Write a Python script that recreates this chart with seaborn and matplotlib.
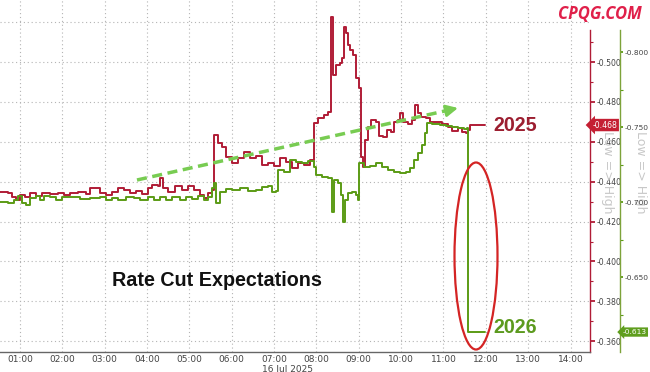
import numpy as np
import pandas as pd
import matplotlib
matplotlib.use("Agg")
import matplotlib.pyplot as plt
import matplotlib.dates as mdates
from matplotlib.patches import Ellipse
from matplotlib.ticker import FuncFormatter, FixedLocator
import seaborn as sns

# ---------------- data ----------------
chart_date = "2025-07-16"
label_2025 = "2025"
label_2026 = "2026"
title_text = "Rate Cut Expectations"
axis_note = "Low => High"
date_label = "16 Jul 2025"
logo_text = "CPQG.COM"

times_2025 = ["00:32", "00:43", "00:49", "00:54", "01:00", "01:07", "01:14", "01:23", "01:31", "01:43",
              "01:54", "02:02", "02:11", "02:22", "02:34", "02:39", "02:48", "02:53", "03:02", "03:10",
              "03:19", "03:27", "03:36", "03:44", "03:53", "04:01", "04:07", "04:16", "04:18", "04:23",
              "04:30", "04:40", "04:50", "04:58", "05:07", "05:15", "05:21", "05:26", "05:32", "05:35",
              "05:41", "05:46", "05:52", "06:00", "06:09", "06:17", "06:26", "06:34", "06:43", "06:51",
              "07:00", "07:08", "07:17", "07:25", "07:34", "07:42", "07:51", "07:57", "08:02", "08:11",
              "08:16", "08:21", "08:23", "08:28", "08:33", "08:36", "08:39", "08:42", "08:45", "08:48",
              "08:52", "08:56", "09:00", "09:03", "09:06", "09:09", "09:13", "09:17", "09:24", "09:29",
              "09:34", "09:40", "09:46", "09:50", "09:56", "09:58", "10:03", "10:10", "10:15", "10:20",
              "10:24", "10:28", "10:35", "10:41", "10:49", "10:58", "11:06", "11:12", "11:21", "11:26",
              "11:32", "11:35", "11:38", "11:46", "11:59"]
vals_2025 = [-0.4348, -0.4343, -0.4323, -0.4308, -0.4333, -0.4323, -0.4343, -0.4328, -0.4343, -0.4338,
             -0.4343, -0.4333, -0.4343, -0.4348, -0.4338, -0.4368, -0.4368, -0.4343, -0.4333, -0.4348,
             -0.4368, -0.4358, -0.4343, -0.4353, -0.4338, -0.4368, -0.4383, -0.4378, -0.4418, -0.4368,
             -0.4348, -0.4378, -0.4358, -0.4378, -0.4358, -0.4333, -0.4318, -0.4343, -0.4358, -0.4634,
             -0.4594, -0.4574, -0.4524, -0.4494, -0.4519, -0.4549, -0.4519, -0.4529, -0.4484, -0.4494,
             -0.4479, -0.4519, -0.4499, -0.4469, -0.4494, -0.4484, -0.4509, -0.4694, -0.4719, -0.4734,
             -0.4749, -0.5226, -0.4935, -0.4985, -0.4995, -0.5020, -0.5175, -0.5145, -0.5085, -0.5060,
             -0.5035, -0.4920, -0.4870, -0.4524, -0.4474, -0.4609, -0.4674, -0.4709, -0.4699, -0.4629,
             -0.4624, -0.4659, -0.4649, -0.4699, -0.4709, -0.4744, -0.4699, -0.4689, -0.4709, -0.4784,
             -0.4744, -0.4724, -0.4719, -0.4699, -0.4699, -0.4689, -0.4674, -0.4654, -0.4669, -0.4649,
             -0.4644, -0.4659, -0.4684, -0.4684, -0.4684]

times_2026 = ["00:32", "00:43", "00:51", "00:57", "01:03", "01:09", "01:14", "01:23", "01:28", "01:34",
              "01:43", "01:51", "02:00", "02:11", "02:25", "02:39", "02:53", "03:02", "03:10", "03:19",
              "03:30", "03:42", "03:50", "04:01", "04:10", "04:18", "04:27", "04:35", "04:47", "04:55",
              "05:04", "05:12", "05:21", "05:26", "05:32", "05:35", "05:38", "05:43", "05:52", "06:00",
              "06:12", "06:23", "06:34", "06:43", "06:51", "06:57", "07:03", "07:06", "07:14", "07:23",
              "07:31", "07:40", "07:48", "07:57", "07:59", "08:08", "08:16", "08:22", "08:25", "08:31",
              "08:35", "08:38", "08:40", "08:45", "08:50", "08:56", "08:59", "09:00", "09:07", "09:16",
              "09:24", "09:33", "09:41", "09:50", "09:58", "10:07", "10:13", "10:18", "10:24", "10:30",
              "10:34", "10:37", "10:44", "10:55", "11:04", "11:12", "11:21", "11:29", "11:33", "11:35",
              "11:59"]
vals_2026 = [-0.7000, -0.6993, -0.7013, -0.7040, -0.6993, -0.6980, -0.7027, -0.7040, -0.7013, -0.7040,
             -0.7033, -0.7013, -0.7033, -0.7033, -0.7020, -0.7027, -0.7033, -0.7013, -0.7027, -0.7013,
             -0.7033, -0.7027, -0.7013, -0.7033, -0.7013, -0.7033, -0.7013, -0.7033, -0.7013, -0.7033,
             -0.7020, -0.7040, -0.7013, -0.7033, -0.7093, -0.7127, -0.6993, -0.7067, -0.7087, -0.7080,
             -0.7093, -0.7073, -0.7080, -0.7100, -0.7107, -0.7067, -0.7073, -0.7213, -0.7200, -0.7280,
             -0.7267, -0.7260, -0.7273, -0.7233, -0.7180, -0.7167, -0.7160, -0.6933, -0.7147, -0.7127,
             -0.7047, -0.6867, -0.7013, -0.7060, -0.7067, -0.7047, -0.7013, -0.7260, -0.7233, -0.7240,
             -0.7260, -0.7233, -0.7213, -0.7200, -0.7193, -0.7200, -0.7227, -0.7280, -0.7327, -0.7380,
             -0.7460, -0.7527, -0.7520, -0.7513, -0.7507, -0.7500, -0.7493, -0.7487, -0.7493, -0.6133,
             -0.6133]

red_major_ticks = [-0.50, -0.48, -0.46, -0.44, -0.42, -0.40, -0.38, -0.36]
red_minor_ticks = [-0.51, -0.49, -0.47, -0.45, -0.43, -0.41, -0.39, -0.37, -0.35]
green_major_ticks = [-0.80, -0.75, -0.70, -0.65]
green_minor_ticks = [-0.775, -0.725, -0.675, -0.625]

# ---------------- styling ----------------
RED = "#b01c36"
RED_TEXT = "#9c1e30"
GREEN = "#5b9b15"
GREEN_TEXT = "#5c9a1e"
GRID = "#b4b4b4"

sns.set_style("white")
plt.rcParams["font.family"] = ["DejaVu Sans"]

df25 = pd.DataFrame({"time": pd.to_datetime([f"{chart_date} {t}" for t in times_2025]),
                     "value": vals_2025})
df26 = pd.DataFrame({"time": pd.to_datetime([f"{chart_date} {t}" for t in times_2026]),
                     "value": vals_2026})

fig = plt.figure(figsize=(6.5, 3.72), dpi=100)
ax = fig.add_axes([0.0, 20 / 372, 590 / 650, 352 / 372])
ax2 = ax.twinx()

sns.lineplot(data=df25, x="time", y="value", ax=ax, color=RED, lw=1.4,
             drawstyle="steps-post", estimator=None, zorder=3)
sns.lineplot(data=df26, x="time", y="value", ax=ax2, color=GREEN, lw=1.4,
             drawstyle="steps-post", estimator=None, zorder=3)

x0 = pd.Timestamp(f"{chart_date} 00:31:42")
x1 = pd.Timestamp(f"{chart_date} 14:27:36")
ax.set_xlim(x0, x1)
ax.set_ylim(-0.3546, -0.5311)
ax2.set_ylim(-0.6000, -0.8347)

for a in (ax, ax2):
    a.set_xlabel("")
    a.set_ylabel("")
    for s in ("top", "left"):
        a.spines[s].set_visible(False)

ax.spines["bottom"].set_color("#666666")
ax.spines["bottom"].set_linewidth(1.0)
ax2.spines["bottom"].set_visible(False)

# x axis
ax.xaxis.set_major_locator(mdates.HourLocator(byhour=range(1, 15)))
ax.xaxis.set_major_formatter(mdates.DateFormatter("%H:%M"))
ax.xaxis.set_minor_locator(mdates.MinuteLocator(byminute=[30]))
ax.tick_params(axis="x", which="major", length=0, labelsize=6.5, labelcolor="#444444", pad=2)
ax.tick_params(axis="x", which="minor", length=3, direction="in", color="#666666", width=0.8)

# red y axis (right)
ax.yaxis.tick_right()
ax.yaxis.set_major_locator(FixedLocator(red_major_ticks))
ax.yaxis.set_minor_locator(FixedLocator(red_minor_ticks))
ax.yaxis.set_major_formatter(FuncFormatter(lambda v, p: f"{v:.3f}"))
ax.tick_params(axis="y", which="major", colors=RED, labelcolor="#444444", direction="out",
               length=3.5, width=1.3, labelsize=5.6, pad=1)
ax.tick_params(axis="y", which="minor", colors=RED, direction="out", length=2.5, width=0.8)
ax.spines["right"].set_color(RED)
ax.spines["right"].set_linewidth(1.0)
ax.spines["right"].set_bounds(-0.3546, -0.5160)

# green y axis
ax2.spines["right"].set_position(("axes", 620 / 590))
ax2.spines["right"].set_color("#7da33a")
ax2.spines["right"].set_linewidth(1.0)
ax2.spines["right"].set_bounds(-0.6000, -0.8147)
ax2.yaxis.set_major_locator(FixedLocator(green_major_ticks))
ax2.yaxis.set_minor_locator(FixedLocator(green_minor_ticks))
ax2.yaxis.set_major_formatter(FuncFormatter(lambda v, p: f"{v:.3f}"))
ax2.tick_params(axis="y", which="major", colors=GREEN, labelcolor="#444444", direction="out",
                length=2.5, width=1.3, labelsize=5.4, pad=0.6)
ax2.tick_params(axis="y", which="minor", colors=GREEN, direction="out", length=2, width=0.8)

# grid
gstyle = dict(color=GRID, linestyle=(0, (1, 2.5)), linewidth=0.8)
ax.grid(axis="y", which="major", **gstyle)
ax.grid(axis="x", which="major", **gstyle)
ax.axhline(-0.52, zorder=0, **gstyle)
ax2.grid(False)
ax.set_axisbelow(True)

# value tags
ax.text(1.004, vals_2025[-1], f"{vals_2025[-1]:.3f}", transform=ax.get_yaxis_transform(),
        ha="left", va="center", fontsize=5.6, color="white", zorder=10, clip_on=False,
        bbox=dict(boxstyle="larrow,pad=0.22", fc="#c41f33", ec="none"))
ax2.text(620 / 590 + 0.004, vals_2026[-1], f"{vals_2026[-1]:.3f}", transform=ax2.get_yaxis_transform(),
         ha="left", va="center", fontsize=5.4, color="white", zorder=10, clip_on=False,
         bbox=dict(boxstyle="larrow,pad=0.22", fc="#5f9e1e", ec="none"))

# watermarks "Low => High"
ax.text(607 / 590, 1 - 172 / 352, axis_note, rotation=270, transform=ax.transAxes,
        ha="center", va="center", fontsize=9, color="#c8c8c8", zorder=1, clip_on=False)
ax.text(640 / 590, 1 - 172 / 352, axis_note, rotation=270, transform=ax.transAxes,
        ha="center", va="center", fontsize=9, color="#c8c8c8", zorder=1, clip_on=False)

# annotations
ann_font = ["Liberation Sans", "DejaVu Sans"]
ax2.text(493 / 590, 1 - 125.5 / 352, label_2025, transform=ax.transAxes, ha="left", va="center",
         fontsize=14.2, fontweight="bold", color=RED_TEXT, family=ann_font, zorder=10)
ax2.text(493 / 590, 1 - 327.5 / 352, label_2026, transform=ax.transAxes, ha="left", va="center",
         fontsize=14.2, fontweight="bold", color=GREEN_TEXT, family=ann_font, zorder=10)
ax2.text(217 / 590, 1 - 280 / 352, title_text, transform=ax.transAxes, ha="center", va="center",
         fontsize=14.2, fontweight="bold", color="#111111", family=ann_font, zorder=10)

# ellipse
ax2.add_patch(Ellipse((476 / 590, 1 - 256 / 352), 43 / 590, 187 / 352, transform=ax.transAxes,
                      fill=False, ec="#d42424", lw=1.6, zorder=6))

# dashed trend arrow
ARROW = "#78cc52"
ax2.plot([137 / 590, 447 / 590], [1 - 180 / 352, 1 - 110.5 / 352], transform=ax.transAxes,
         ls=(0, (2.9, 1.6)), lw=2.5, color=ARROW, zorder=7, solid_capstyle="butt")
ax2.annotate("", xy=(458 / 590, 1 - 108 / 352), xytext=(446 / 590, 1 - 110.7 / 352),
             xycoords=ax.transAxes, textcoords=ax.transAxes,
             arrowprops=dict(arrowstyle="-|>,head_length=0.7,head_width=0.35", color=ARROW,
                             lw=2.0, shrinkA=0, shrinkB=0), zorder=7)

# date label and logo
fig.text(288 / 650, 1 - 369 / 372, date_label, ha="center", va="center", fontsize=6.5, color="#444444")
fig.text(642 / 650, 1 - 14 / 372, logo_text, ha="right", va="center", fontsize=12,
         fontweight="bold", fontstyle="italic", color="#e0204a", family=["Open Sans", "DejaVu Sans"])

fig.savefig("out.png", dpi=100)
